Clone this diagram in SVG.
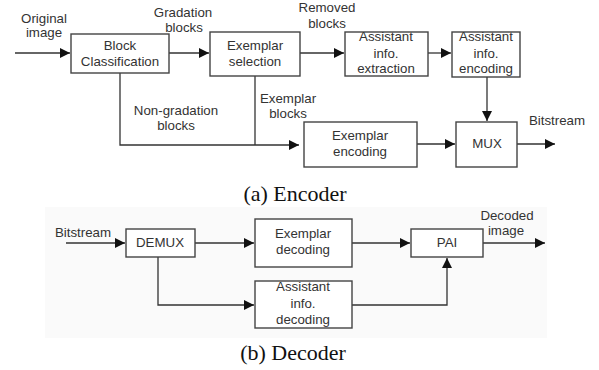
<svg xmlns="http://www.w3.org/2000/svg" width="599" height="370" viewBox="0 0 599 370">
<defs>
<marker id="arr" viewBox="0 0 10 10" refX="10" refY="5" markerWidth="10" markerHeight="10" markerUnits="userSpaceOnUse" orient="auto">
<path d="M0,0 L10,5 L0,10 z" fill="#111"/>
</marker>
<style>
.box{fill:#fff;stroke:#444;stroke-width:1.4}
.ln{fill:none;stroke:#333;stroke-width:1.3}
.t{font-family:"Liberation Sans",Arial,sans-serif;font-size:13.3px;fill:#333;text-anchor:middle}
.cap{font-family:"Liberation Serif","Times New Roman",serif;font-size:22px;fill:#111;text-anchor:middle}
</style>
</defs>
<rect width="599" height="370" fill="#fff"/>
<rect x="45" y="207" width="502" height="131" fill="#fafafa"/>

<g id="connectors">
<path class="ln" d="M15,53 H70" marker-end="url(#arr)"/>
<path class="ln" d="M169,53 H209" marker-end="url(#arr)"/>
<path class="ln" d="M300,53 H344" marker-end="url(#arr)"/>
<path class="ln" d="M428,53 H451" marker-end="url(#arr)"/>
<path class="ln" d="M487,77 V121" marker-end="url(#arr)"/>
<path class="ln" d="M120,73 V145 H299" marker-end="url(#arr)"/>
<path class="ln" d="M255,76 V145"/>
<path class="ln" d="M417,144 H455" marker-end="url(#arr)"/>
<path class="ln" d="M517,144 H555" marker-end="url(#arr)"/>
<path class="ln" d="M66,243 H125" marker-end="url(#arr)"/>
<path class="ln" d="M195,243 H254" marker-end="url(#arr)"/>
<path class="ln" d="M158,257 V305 H254" marker-end="url(#arr)"/>
<path class="ln" d="M352,243 H410" marker-end="url(#arr)"/>
<path class="ln" d="M352,305 H447 V258" marker-end="url(#arr)"/>
<path class="ln" d="M483,243 H545" marker-end="url(#arr)"/>
<text class="t" x="44" y="23">Original</text>
<text class="t" x="44" y="37">image</text>
<text class="t" x="183" y="17">Gradation</text>
<text class="t" x="184" y="32">blocks</text>
<text class="t" x="327" y="12">Removed</text>
<text class="t" x="327" y="28">blocks</text>
<text class="t" x="176" y="115">Non-gradation</text>
<text class="t" x="176" y="130">blocks</text>
<text class="t" x="288" y="103">Exemplar</text>
<text class="t" x="288" y="118">blocks</text>
<text class="t" x="557" y="125">Bitstream</text>
<text class="t" x="83" y="237">Bitstream</text>
<text class="t" x="507" y="220">Decoded</text>
<text class="t" x="506" y="235">image</text>
</g>

<g id="block-classification">
<rect class="box" x="71" y="34" width="98" height="39"/>
<text class="t" x="120" y="50">Block</text>
<text class="t" x="120" y="66">Classification</text>
</g>
<g id="exemplar-selection">
<rect class="box" x="210" y="32" width="90" height="44"/>
<text class="t" x="255" y="50">Exemplar</text>
<text class="t" x="255" y="66">selection</text>
</g>
<g id="assistant-extraction">
<rect class="box" x="345" y="32" width="83" height="44"/>
<text class="t" x="386" y="41">Assistant</text>
<text class="t" x="386" y="58">info.</text>
<text class="t" x="386" y="73">extraction</text>
</g>
<g id="assistant-encoding">
<rect class="box" x="452" y="32" width="68" height="45"/>
<text class="t" x="486" y="41">Assistant</text>
<text class="t" x="486" y="58">info.</text>
<text class="t" x="486" y="73">encoding</text>
</g>
<g id="exemplar-encoding">
<rect class="box" x="304" y="122" width="113" height="45"/>
<text class="t" x="360" y="140">Exemplar</text>
<text class="t" x="360" y="156">encoding</text>
</g>
<g id="mux">
<rect class="box" x="456" y="122" width="61" height="45"/>
<text class="t" x="487" y="148">MUX</text>
</g>
<text class="cap" x="295" y="201">(a) Encoder</text>

<g id="demux">
<rect class="box" x="126" y="229" width="69" height="28"/>
<text class="t" x="160" y="247">DEMUX</text>
</g>
<g id="exemplar-decoding">
<rect class="box" x="255" y="219" width="97" height="48"/>
<text class="t" x="303" y="238">Exemplar</text>
<text class="t" x="303" y="254">decoding</text>
</g>
<g id="pai">
<rect class="box" x="411" y="229" width="72" height="28"/>
<text class="t" x="447" y="247">PAI</text>
</g>
<g id="assistant-decoding">
<rect class="box" x="255" y="281" width="97" height="47"/>
<text class="t" x="303" y="291">Assistant</text>
<text class="t" x="303" y="308">info.</text>
<text class="t" x="303" y="324">decoding</text>
</g>
<text class="cap" x="293" y="360">(b) Decoder</text>
</svg>
